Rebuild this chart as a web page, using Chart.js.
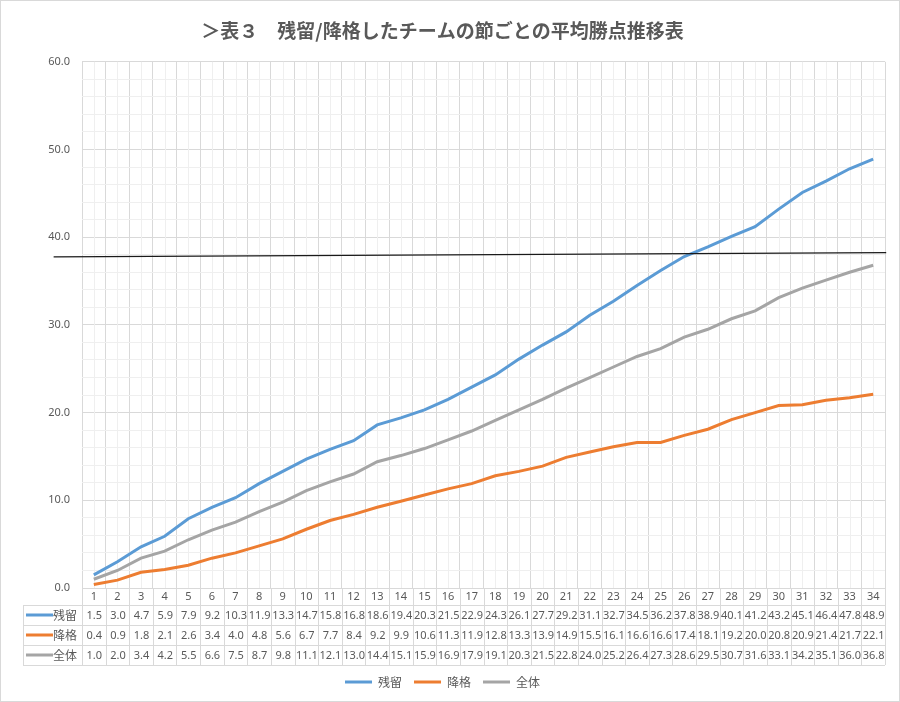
<!DOCTYPE html>
<html lang="ja">
<head>
<meta charset="utf-8">
<title>平均勝点推移表</title>
<script src="https://cdn.jsdelivr.net/npm/chart.js@4.4.0/dist/chart.umd.min.js"></script>
<style>
  html, body { margin: 0; padding: 0; background: #fff; }
  #wrap { width: 900px; height: 702px; }
</style>
</head>
<body>
<div id="wrap"><canvas id="graph" width="900" height="702"></canvas></div>
<script>
// Data
var ROUNDS = ['1','2','3','4','5','6','7','8','9','10','11','12','13','14','15','16','17',
              '18','19','20','21','22','23','24','25','26','27','28','29','30','31','32','33','34'];
var REMAINED = [1.5, 3.0, 4.7, 5.9, 7.9, 9.2, 10.3, 11.9, 13.3, 14.7, 15.8, 16.8, 18.6, 19.4, 20.3, 21.5, 22.9,
                24.3, 26.1, 27.7, 29.2, 31.1, 32.7, 34.5, 36.2, 37.8, 38.9, 40.1, 41.2, 43.2, 45.1, 46.4, 47.8, 48.9];
var RELEGATED = [0.4, 0.9, 1.8, 2.1, 2.6, 3.4, 4.0, 4.8, 5.6, 6.7, 7.7, 8.4, 9.2, 9.9, 10.6, 11.3, 11.9,
                 12.8, 13.3, 13.9, 14.9, 15.5, 16.1, 16.6, 16.6, 17.4, 18.1, 19.2, 20.0, 20.8, 20.9, 21.4, 21.7, 22.1];
var ALL_TEAMS = [1.0, 2.0, 3.4, 4.2, 5.5, 6.6, 7.5, 8.7, 9.8, 11.1, 12.1, 13.0, 14.4, 15.1, 15.9, 16.9, 17.9,
                 19.1, 20.3, 21.5, 22.8, 24.0, 25.2, 26.4, 27.3, 28.6, 29.5, 30.7, 31.6, 33.1, 34.2, 35.1, 36.0, 36.8];
var SERIES_NAMES = ['残留', '降格', '全体'];
var Y_TICKS = [0, 10, 20, 30, 40, 50, 60];
// hand drawn guide line: ends in category-index units and points
var GUIDE_X = [-1.7, 33.55];
var GUIDE_Y = [37.75, 38.25];

var COLORS = ['#5b9bd5', '#ed7d31', '#a5a5a5'];
var TEXT = '#595959';
var GRID = '#d9d9d9';
var GRID_MINOR = '#efefef';
var NUM_FONT = '11px "Noto Sans", "Liberation Sans", sans-serif';
var JP_FONT = '12px "Noto Sans CJK JP", sans-serif';

Chart.defaults.font.family = '"Noto Sans", "Noto Sans CJK JP", sans-serif';
Chart.defaults.color = TEXT;

var rows = [REMAINED, RELEGATED, ALL_TEAMS];

var tablePlugin = {
    id: 'tablePlugin',
    beforeDraw: function(chart) {
        var ctx = chart.ctx;
        ctx.save();
        ctx.fillStyle = '#fff';
        ctx.fillRect(0, 0, chart.width, chart.height);
        ctx.restore();
    },
    beforeDatasetsDraw: function(chart) {
        // minor vertical grid at category centres
        var ctx = chart.ctx, x = chart.scales.x, area = chart.chartArea;
        ctx.save();
        ctx.strokeStyle = GRID_MINOR;
        ctx.lineWidth = 1;
        ctx.beginPath();
        for (var i = 0; i < ROUNDS.length; i++) {
            var px = Math.round(x.getPixelForValue(i)) + 0.5;
            ctx.moveTo(px, area.top);
            ctx.lineTo(px, area.bottom);
        }
        ctx.stroke();
        ctx.restore();
    },
    afterDraw: function(chart) {
        var ctx = chart.ctx, x = chart.scales.x, y = chart.scales.y, area = chart.chartArea;
        var cw = x.getPixelForValue(1) - x.getPixelForValue(0);
        var x0 = x.getPixelForValue(0);

        // guide line
        ctx.save();
        ctx.strokeStyle = '#1a1a1a';
        ctx.lineWidth = 1.2;
        ctx.beginPath();
        ctx.moveTo(x0 + GUIDE_X[0] * cw, y.getPixelForValue(GUIDE_Y[0]));
        ctx.lineTo(x0 + GUIDE_X[1] * cw, y.getPixelForValue(GUIDE_Y[1]));
        ctx.stroke();
        ctx.restore();

        // data table
        var top = area.bottom;
        var hdr = top + 17;
        var rowH = 20;
        var keyLeft = area.left - 59;
        ctx.save();
        ctx.strokeStyle = GRID;
        ctx.lineWidth = 1;
        ctx.beginPath();
        for (var r = 0; r <= 3; r++) {
            var py = Math.round(hdr + r * rowH) + 0.5;
            ctx.moveTo(keyLeft, py);
            ctx.lineTo(area.right, py);
        }
        ctx.moveTo(keyLeft + 0.5, hdr);
        ctx.lineTo(keyLeft + 0.5, hdr + 3 * rowH);
        for (var i = 0; i <= ROUNDS.length; i++) {
            var bx = Math.round(x0 + (i - 0.5) * cw) + 0.5;
            ctx.moveTo(bx, top);
            ctx.lineTo(bx, hdr + 3 * rowH);
        }
        ctx.stroke();

        ctx.fillStyle = TEXT;
        ctx.textAlign = 'center';
        ctx.textBaseline = 'middle';
        ctx.font = NUM_FONT;
        for (var i = 0; i < ROUNDS.length; i++) {
            var cx = x.getPixelForValue(i);
            ctx.fillText(ROUNDS[i], cx, top + 9);
            for (var r = 0; r < rows.length; r++) {
                ctx.fillText(rows[r][i].toFixed(1), cx + 0.5, hdr + r * rowH + rowH / 2 + 0.5);
            }
        }
        // legend keys in the table
        for (var r = 0; r < rows.length; r++) {
            var ry = hdr + r * rowH + rowH / 2;
            ctx.strokeStyle = COLORS[r];
            ctx.lineWidth = 3;
            ctx.beginPath();
            ctx.moveTo(keyLeft + 3, ry);
            ctx.lineTo(keyLeft + 30, ry);
            ctx.stroke();
            ctx.font = JP_FONT;
            ctx.textAlign = 'left';
            ctx.fillText(SERIES_NAMES[r], keyLeft + 30, ry + 0.5);
        }

        // outer border
        ctx.strokeStyle = GRID;
        ctx.lineWidth = 1;
        ctx.strokeRect(0.5, 0.5, chart.width - 1, chart.height - 1);
        ctx.restore();
    }
};

var chart = new Chart(document.getElementById('graph').getContext('2d'), {
    type: 'line',
    data: {
        labels: ROUNDS,
        datasets: rows.map(function(vals, k) {
            return {
                label: SERIES_NAMES[k],
                data: vals,
                borderColor: COLORS[k],
                backgroundColor: COLORS[k],
                borderWidth: 3,
                pointRadius: 0,
                tension: 0,
                fill: false
            };
        })
    },
    options: {
        responsive: false,
        animation: false,
        devicePixelRatio: 1,
        layout: { padding: { left: 0, right: 15, top: 0, bottom: 4 } },
        plugins: {
            title: {
                display: true,
                text: '＞表３　残留/降格したチームの節ごとの平均勝点推移表',
                color: TEXT,
                font: { family: '"Noto Sans CJK JP", sans-serif', size: 19, weight: 'bold' },
                padding: { top: 19, bottom: 20 }
            },
            legend: {
                position: 'bottom',
                labels: {
                    usePointStyle: true,
                    pointStyle: 'line',
                    pointStyleWidth: 27,
                    color: TEXT,
                    padding: 12,
                    font: { family: '"Noto Sans CJK JP", sans-serif', size: 12 }
                }
            },
            tooltip: { enabled: false }
        },
        scales: {
            x: {
                offset: true,
                grid: { offset: true, color: GRID, drawTicks: false },
                border: { color: GRID },
                ticks: { display: false },
                afterFit: function(scale) { scale.height = 76; }
            },
            y: {
                min: 0,
                max: 60,
                afterFit: function(scale) { scale.width = 82; },
                afterBuildTicks: function(scale) {
                    var t = [];
                    for (var v = 0; v <= 60; v += 2) t.push({ value: v });
                    scale.ticks = t;
                },
                grid: {
                    drawTicks: false,
                    color: function(c) { return c.tick && Y_TICKS.indexOf(c.tick.value) >= 0 ? GRID : GRID_MINOR; }
                },
                border: { display: false },
                ticks: {
                    autoSkip: false,
                    padding: 12,
                    color: TEXT,
                    font: { size: 11 },
                    callback: function(v) { return Y_TICKS.indexOf(v) >= 0 ? v.toFixed(1) : ''; }
                }
            }
        }
    },
    plugins: [tablePlugin]
});
</script>
</body>
</html>
